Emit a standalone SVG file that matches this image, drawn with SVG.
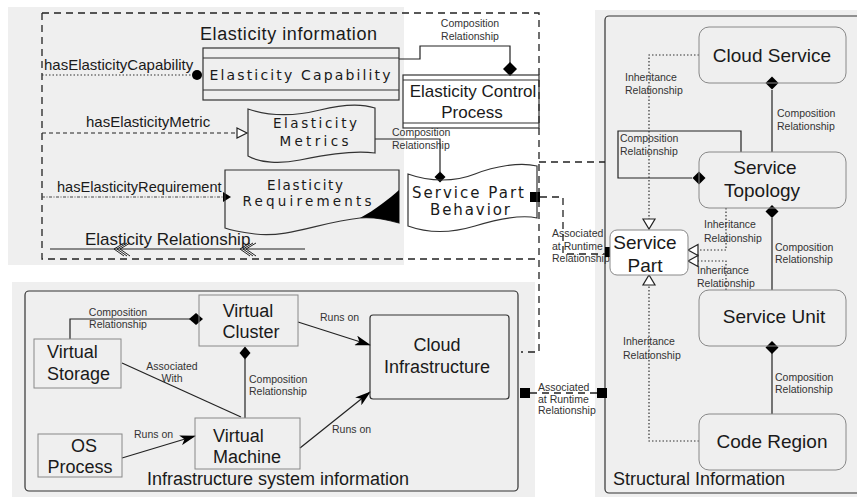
<svg xmlns="http://www.w3.org/2000/svg" width="857" height="500" viewBox="0 0 857 500">
<defs>
<style>
text{font-family:"Liberation Sans",Arial,sans-serif;fill:#1a1a1a}
.s{font-size:10.5px;fill:#333}
.m{font-size:15px}
.n{font-size:19px;text-anchor:middle}
.b{font-size:18px}
.c{text-anchor:middle}
.w{font-family:"DejaVu Sans","Open Sans",sans-serif;font-size:13.5px;text-anchor:middle}
.ln{fill:none;stroke:#222;stroke-width:1.2}
.rr{fill:none;stroke:#888;stroke-width:1}
.bx{fill:none;stroke:#333;stroke-width:1.2}
.dot{fill:none;stroke:#333;stroke-width:1.2;stroke-dasharray:1.5 2}
.dash{fill:none;stroke:#222;stroke-width:1.3;stroke-dasharray:7 5}
.blk{fill:#000}
.hol{fill:#fff;stroke:#222;stroke-width:1.2}
</style>
<marker id="arr" viewBox="0 0 16 10" refX="15" refY="5" markerWidth="16" markerHeight="10" markerUnits="userSpaceOnUse" orient="auto">
<path d="M0,0 L16,5 L0,10 L4,5 Z" fill="#000"/>
</marker>
</defs>

<!-- backgrounds -->
<rect x="8" y="7" width="396" height="258" fill="#efefef"/>
<rect x="595" y="10" width="262" height="487" fill="#efefef"/>
<rect x="12" y="282" width="523" height="215" fill="#efefef"/>

<!-- panels -->
<rect x="605" y="16" width="262" height="477" rx="4" class="bx"/>
<rect x="25" y="291" width="493" height="200" rx="4" class="bx"/>
<text x="200" y="40" class="b" textLength="177">Elasticity information</text>
<text x="613" y="485" class="b">Structural Information</text>
<text x="147" y="485" class="b">Infrastructure system information</text>

<g id="connectors">
<path class="dash" d="M42,13 H539 V352 H521 M42,13 V259 H539 M539,162 H605"/>
<!-- left relations -->
<path class="dot" d="M42,75 H192"/>
<circle cx="197" cy="75" r="5" class="blk"/>
<text x="44" y="70" class="m">hasElasticityCapability</text>
<path d="M42,133 H237" fill="none" stroke="#222" stroke-width="1.2" stroke-dasharray="4 3"/>
<path class="hol" d="M237,128 L247,133 L237,138 Z"/>
<text x="86" y="127" class="m">hasElasticityMetric</text>
<path d="M42,197 H223" fill="none" stroke="#444" stroke-width="1.2" stroke-dasharray="3 1.5 1 1.5"/>
<path class="blk" d="M223,192 L231,197 L223,202 Z"/>
<text x="57" y="192" class="m" style="font-size:14.6px">hasElasticityRequirement</text>
<path class="ln" d="M50,249 H305"/>
<path fill="none" stroke="#222" stroke-width="1" d="M124,243 L114,249 L124,256 M127,243 L117,249 L127,256 M130,243 L120,249 L130,256 M250,243 L240,249 L250,256 M253,243 L243,249 L253,256 M256,243 L246,249 L256,256"/>
<text x="85" y="245" style="font-size:17px">Elasticity Relationship</text>
<!-- EC -> ECP -->
<path class="ln" d="M399,59 H420 V46 H510 V63"/>
<path class="blk" d="M510,62 L517,69 L510,76 L503,69 Z"/>
<text x="470" y="27" class="s c">Composition</text>
<text x="470" y="40" class="s c">Relationship</text>
<!-- EM -> SPB -->
<path class="ln" d="M375,139 H440 V172" stroke="#555"/>
<path class="blk" d="M440,171.5 L445.5,177 L440,182.5 L434.5,177 Z"/>
<text x="392" y="136" class="s">Composition</text>
<text x="392" y="149" class="s">Relationship</text>
<!-- SPB -> Service Part -->
<path class="dash" d="M540,197 H563 V254 H605"/>
<text x="552" y="237" class="s">Associated</text>
<text x="552" y="250" class="s">at Runtime</text>
<text x="552" y="262" class="s">Relationship</text>
<!-- bottom associated -->
<path class="dash" d="M530,393 H597"/>
<text x="538" y="391" class="s">Associated</text>
<text x="538" y="403" class="s">at Runtime</text>
<text x="538" y="414" class="s">Relationship</text>
<rect x="530" y="192" width="10" height="10" class="blk"/>
<rect x="605" y="247" width="10" height="10" class="blk"/>
<rect x="520" y="388" width="10" height="10" class="blk"/>
<rect x="597" y="388" width="10" height="10" class="blk"/>
<!-- right panel compositions -->
<path class="ln" d="M772,90 V152 M772,218 V290 M772,353 V414 M741,152 V131 H618 V178 H692"/>
<path class="blk" d="M772,76.5 L778.5,83 L772,89.5 L765.5,83 Z"/>
<path class="blk" d="M772,205 L778.5,211.5 L772,218 L765.5,211.5 Z"/>
<path class="blk" d="M772,341 L778.5,347.5 L772,354 L765.5,347.5 Z"/>
<path class="blk" d="M699,171.5 L705.5,178 L699,184.5 L692.5,178 Z"/>
<text x="777" y="117" class="s">Composition</text>
<text x="777" y="130" class="s">Relationship</text>
<text x="775" y="251" class="s">Composition</text>
<text x="775" y="263" class="s">Relationship</text>
<text x="775" y="381" class="s">Composition</text>
<text x="775" y="393" class="s">Relationship</text>
<text x="620" y="142" class="s">Composition</text>
<text x="620" y="155" class="s">Relationship</text>
<!-- inheritance -->
<path class="dot" d="M699,55 H649 V219 M726,208 V250 H698 M726,290 V261 H698 M699,441 H649 V285"/>
<path class="hol" d="M643,219 L655,219 L649,229 Z"/>
<path class="hol" d="M698,244.5 L698,255.5 L688,250 Z"/>
<path class="hol" d="M698,255.5 L698,266.5 L688,261 Z"/>
<path class="hol" d="M643,285 L655,285 L649,275 Z"/>
<text x="625" y="81" class="s">Inheritance</text>
<text x="625" y="94" class="s">Relationship</text>
<text x="704" y="228" class="s">Inheritance</text>
<text x="704" y="242" class="s">Relationship</text>
<text x="697" y="274" class="s">Inheritance</text>
<text x="697" y="287" class="s">Relationship</text>
<text x="623" y="345" class="s">Inheritance</text>
<text x="623" y="359" class="s">Relationship</text>
<!-- infrastructure connectors -->
<path class="ln" d="M70,339 V319 H190" stroke="#555"/>
<path class="blk" d="M196,313 L203,319 L196,325 L189,319 Z"/>
<text x="118" y="316" class="s c">Composition</text>
<text x="118" y="328" class="s c">Relationship</text>
<path class="ln" d="M122,363 L241,417"/>
<text x="172" y="370" class="s c">Associated</text>
<text x="172" y="382" class="s c">With</text>
<path class="ln" d="M245,418 V359" stroke="#555"/>
<path class="blk" d="M245,346.5 L250.5,353 L245,359.5 L239.5,353 Z"/>
<text x="249" y="383" class="s">Composition</text>
<text x="249" y="395" class="s">Relationship</text>
<path class="ln" d="M122,458 L195,436" marker-end="url(#arr)"/>
<text x="134" y="438" class="s">Runs on</text>
<path class="ln" d="M298,322 L370,345" marker-end="url(#arr)"/>
<text x="320" y="321" class="s">Runs on</text>
<path class="ln" d="M300,448 L370,392" marker-end="url(#arr)"/>
<text x="332" y="433" class="s">Runs on</text>
</g>

<g id="elasticity-capability">
<rect x="203" y="48" width="196" height="52" class="bx"/>
<path class="bx" d="M203,58 H399 M203,90 H399"/>
<text x="300" y="80" class="w" style="font-size:14px" textLength="181">Elasticity Capability</text>
</g>
<g id="elasticity-control-process">
<rect x="403" y="75" width="136" height="53" fill="#fff" class="bx"/>
<path class="bx" d="M403,80 H539 M403,123 H539"/>
<text x="473" y="97" class="c" style="font-size:17px">Elasticity Control</text>
<text x="472" y="118" class="c" style="font-size:17px">Process</text>
</g>
<g id="elasticity-metrics">
<path class="bx" d="M248,109 C275,118 300,115 320,110 S360,103 375,108 V153 C350,150 320,156 300,160 S260,163 248,156 Z"/>
<text x="315" y="128" class="w" textLength="84">Elasticity</text>
<text x="314" y="146" class="w" textLength="69">Metrics</text>
</g>
<g id="elasticity-requirements">
<path class="bx" d="M225,170 H399 V223 C385,219 372,217 360,218 C320,222 290,238 255,234 C240,232 230,230 225,228 Z"/>
<path class="blk" d="M360,218 C375,210 390,198 399,190 V223 C385,219 372,217 360,218 Z"/>
<text x="305" y="190" class="w" textLength="76">Elasticity</text>
<text x="307" y="206" class="w" textLength="129">Requirements</text>
</g>
<g id="service-part-behavior">
<path class="bx" fill="#fff" d="M408,174 C430,182 455,182 475,174 S520,162 537,166 V218 C520,214 495,220 475,226 S430,234 408,226 Z"/>
<text x="468" y="198" class="w" style="font-size:15px" textLength="112">Service Part</text>
<text x="470" y="215" class="w" style="font-size:15px" textLength="80">Behavior</text>
</g>

<g id="cloud-service">
<rect x="699" y="27" width="147" height="56" rx="10" class="rr"/>
<text x="772" y="62" class="n">Cloud Service</text>
</g>
<g id="service-topology">
<rect x="699" y="152" width="147" height="56" rx="10" class="rr"/>
<text x="765" y="174" class="n">Service</text>
<text x="762" y="197" class="n">Topology</text>
</g>
<g id="service-unit">
<rect x="699" y="290" width="147" height="56" rx="10" class="rr"/>
<text x="774" y="323" class="n">Service Unit</text>
</g>
<g id="code-region">
<rect x="699" y="414" width="147" height="56" rx="10" class="rr"/>
<text x="772" y="448" class="n">Code Region</text>
</g>
<g id="service-part">
<rect x="610" y="230" width="78" height="45" rx="7" fill="#fff" stroke="#888"/>
<text x="645" y="249" class="n">Service</text>
<text x="645" y="272" class="n">Part</text>
</g>

<g id="virtual-cluster">
<rect x="199" y="295" width="99" height="51" class="rr"/>
<text x="248" y="317" class="b c">Virtual</text>
<text x="251" y="338" class="b c">Cluster</text>
</g>
<g id="virtual-storage">
<rect x="34" y="339" width="87" height="49" class="rr"/>
<text x="47" y="358" class="b">Virtual</text>
<text x="47" y="380" class="b">Storage</text>
</g>
<g id="os-process">
<rect x="38" y="434" width="84" height="43" class="rr"/>
<text x="84" y="452" class="b c">OS</text>
<text x="80" y="473" class="b c">Process</text>
</g>
<g id="virtual-machine">
<rect x="195" y="418" width="105" height="51" class="rr"/>
<text x="213" y="442" class="b">Virtual</text>
<text x="213" y="463" class="b">Machine</text>
</g>
<g id="cloud-infrastructure">
<rect x="370" y="315" width="139" height="84" rx="3" class="bx"/>
<text x="437" y="351" class="b c">Cloud</text>
<text x="437" y="373" class="b c">Infrastructure</text>
</g>
</svg>
